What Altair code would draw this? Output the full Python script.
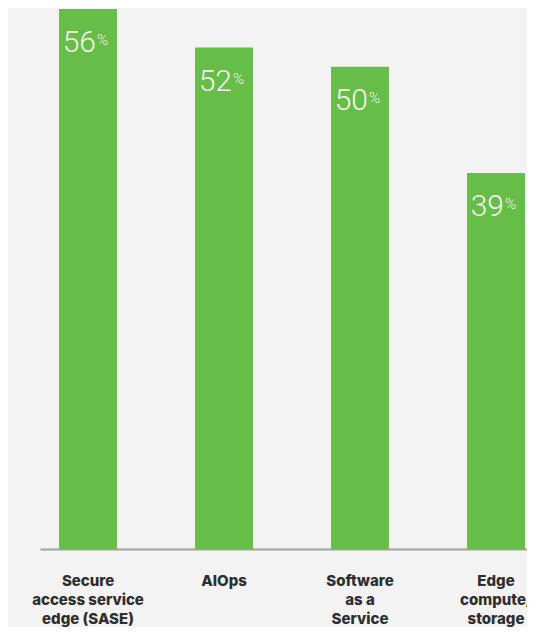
import altair as alt
import pandas as pd

categories = ["Secure|access service|edge (SASE)", "AIOps", "Software|as a|Service", "Edge|compute/|storage"]
values = [56, 52, 50, 39]

df = pd.DataFrame({"category": categories, "value": values})
df["num"] = df["value"].astype(str)
df["pct"] = "%"

x = alt.X(
    "category:N",
    sort=categories,
    scale=alt.Scale(paddingInner=0.574, paddingOuter=0.14, range=[0, 504]),
    axis=alt.Axis(
        title=None,
        labelExpr="split(datum.label, '|')",
        labelAngle=0,
        labelFont="Inter",
        labelFontWeight=800,
        labelFontSize=15,
        labelLineHeight=19,
        labelColor="#2e2e2e",
        labelPadding=24,
        labelBaseline="top",
        ticks=False,
        domainColor="#a0a0a0",
        domainWidth=1.8,
    ),
)
y = alt.Y("value:Q", scale=alt.Scale(domain=[0, 56.1]), axis=None)

base = alt.Chart(df)
bars = base.mark_bar(color="#66bd47").encode(x=x, y=y)
nums = base.mark_text(
    font="Roboto", fontWeight=300, fontSize=30, color="#f4f7f2",
    align="right", baseline="alphabetic", dx=8, dy=43
).encode(x=x, y=y, text="num:N")
pcts = base.mark_text(
    font="Roboto", fontWeight=300, fontSize=15, color="#f4f7f2",
    align="left", baseline="alphabetic", dx=9, dy=36
).encode(x=x, y=y, text="pct:N")

chart = (bars + nums + pcts).properties(
    width=487, height=541,
    background="#f2f3f2",
    autosize=alt.AutoSizeParams(type="none"),
    padding={"left": 32, "top": 0, "right": 0, "bottom": 78},
).configure_view(stroke=None)

chart.save("out.html", embed_options={"renderer": "svg", "actions": False})
